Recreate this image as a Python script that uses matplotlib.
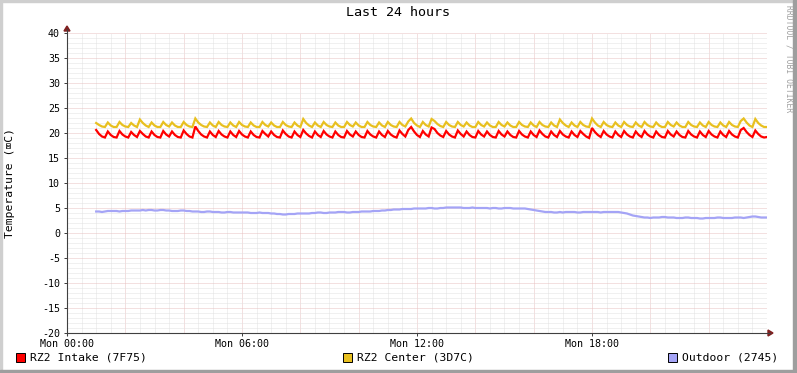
import numpy as np
import matplotlib.pyplot as plt
from matplotlib.patches import Rectangle, Polygon

plt.rcParams['font.family'] = ['DejaVu Sans Mono', 'DejaVu Sans']
plt.rcParams['axes.unicode_minus'] = False

# samples every 6 minutes, first one at 01:00
intake = [
    20.6, 19.8, 19.3, 19.1, 20.3, 19.6, 19.2, 19.1, 20.4, 19.7,
    19.3, 19.1, 20.2, 19.6, 19.2, 20.4, 19.8, 19.3, 19.1, 20.3,
    19.6, 19.2, 19.1, 20.4, 19.7, 19.3, 20.3, 19.6, 19.2, 19.1,
    20.5, 19.8, 19.3, 19.1, 21.3, 20.4, 19.7, 19.3, 19.1, 20.3,
    19.6, 19.2, 20.4, 19.7, 19.3, 19.1, 20.3, 19.6, 19.2, 20.4,
    19.7, 19.3, 19.1, 20.3, 19.6, 19.2, 19.1, 20.4, 19.8, 19.3,
    20.3, 19.6, 19.2, 19.1, 20.5, 19.8, 19.3, 19.1, 20.3, 19.6,
    19.2, 20.6, 19.9, 19.4, 19.1, 20.3, 19.6, 19.2, 20.4, 19.7,
    19.3, 19.1, 20.3, 19.6, 19.2, 19.1, 20.4, 19.7, 19.3, 20.3,
    19.6, 19.2, 19.1, 20.4, 19.7, 19.3, 19.1, 20.3, 19.6, 19.2,
    20.4, 19.7, 19.3, 19.1, 20.5, 19.8, 19.3, 20.6, 21.2, 20.3,
    19.6, 19.2, 20.4, 19.7, 19.3, 21.1, 20.8, 20.0, 19.5, 19.2,
    20.4, 19.7, 19.3, 19.1, 20.5, 19.8, 19.3, 20.3, 19.6, 19.2,
    19.1, 20.4, 19.7, 19.3, 20.3, 19.6, 19.2, 19.1, 20.4, 19.7,
    19.3, 20.3, 19.6, 19.2, 19.1, 20.4, 19.7, 19.3, 19.1, 20.3,
    19.6, 19.2, 20.5, 19.8, 19.3, 19.1, 20.3, 19.6, 19.2, 20.4,
    19.7, 19.3, 19.1, 20.3, 19.6, 19.2, 20.4, 19.8, 19.3, 19.0,
    21.0, 20.2, 19.6, 19.2, 20.4, 19.7, 19.3, 19.1, 20.3, 19.6,
    19.2, 20.4, 19.7, 19.3, 19.1, 20.3, 19.6, 19.2, 20.4, 19.7,
    19.3, 19.1, 20.3, 19.6, 19.2, 19.1, 20.4, 19.7, 19.3, 20.3,
    19.6, 19.2, 19.1, 20.4, 19.7, 19.3, 19.1, 20.3, 19.6, 19.2,
    20.4, 19.7, 19.3, 19.1, 20.3, 19.6, 19.2, 20.4, 19.7, 19.3,
    19.1, 20.6, 21.0, 20.2, 19.6, 19.2, 20.5, 19.8, 19.3, 19.1,
    19.2,
]

center = [
    22.0, 21.6, 21.3, 21.2, 22.1, 21.5, 21.2, 21.2, 22.2, 21.6,
    21.3, 21.2, 22.0, 21.5, 21.2, 22.7, 22.0, 21.5, 21.2, 22.1,
    21.5, 21.2, 21.2, 22.2, 21.6, 21.3, 22.1, 21.5, 21.2, 21.2,
    22.2, 21.6, 21.3, 21.2, 22.9, 22.1, 21.6, 21.3, 21.2, 22.1,
    21.5, 21.2, 22.2, 21.6, 21.3, 21.2, 22.1, 21.5, 21.2, 22.2,
    21.6, 21.3, 21.2, 22.1, 21.5, 21.2, 21.2, 22.2, 21.6, 21.3,
    22.1, 21.5, 21.2, 21.2, 22.2, 21.6, 21.3, 21.2, 22.1, 21.5,
    21.2, 22.8, 22.0, 21.5, 21.2, 22.1, 21.5, 21.2, 22.2, 21.6,
    21.3, 21.2, 22.1, 21.5, 21.2, 21.2, 22.2, 21.6, 21.3, 22.1,
    21.5, 21.2, 21.2, 22.2, 21.6, 21.3, 21.2, 22.1, 21.5, 21.2,
    22.2, 21.6, 21.3, 21.2, 22.2, 21.6, 21.3, 22.3, 22.9, 22.0,
    21.5, 21.2, 22.2, 21.6, 21.3, 22.8, 22.4, 21.8, 21.4, 21.2,
    22.2, 21.6, 21.3, 21.2, 22.2, 21.6, 21.3, 22.1, 21.5, 21.2,
    21.2, 22.2, 21.6, 21.3, 22.1, 21.5, 21.2, 21.2, 22.2, 21.6,
    21.3, 22.1, 21.5, 21.2, 21.2, 22.2, 21.6, 21.3, 21.2, 22.1,
    21.5, 21.2, 22.2, 21.6, 21.3, 21.2, 22.1, 21.5, 21.2, 22.7,
    22.0, 21.5, 21.2, 22.1, 21.5, 21.2, 22.2, 21.6, 21.3, 21.2,
    22.9, 22.1, 21.5, 21.2, 22.2, 21.6, 21.3, 21.2, 22.1, 21.5,
    21.2, 22.2, 21.6, 21.3, 21.2, 22.1, 21.5, 21.2, 22.2, 21.6,
    21.3, 21.2, 22.1, 21.5, 21.2, 21.2, 22.2, 21.6, 21.3, 22.1,
    21.5, 21.2, 21.2, 22.2, 21.6, 21.3, 21.2, 22.1, 21.5, 21.2,
    22.2, 21.6, 21.3, 21.2, 22.1, 21.5, 21.2, 22.2, 21.6, 21.3,
    21.2, 22.4, 22.9, 22.1, 21.5, 21.2, 22.8, 22.0, 21.5, 21.2,
    21.2,
]

outdoor = [
    4.3, 4.3, 4.2, 4.3, 4.4, 4.4, 4.4, 4.4, 4.3, 4.4,
    4.4, 4.4, 4.5, 4.5, 4.5, 4.5, 4.6, 4.5, 4.6, 4.6,
    4.5, 4.5, 4.6, 4.6, 4.5, 4.5, 4.4, 4.4, 4.4, 4.5,
    4.5, 4.4, 4.4, 4.3, 4.3, 4.3, 4.2, 4.2, 4.3, 4.3,
    4.2, 4.2, 4.2, 4.1, 4.1, 4.2, 4.2, 4.1, 4.1, 4.1,
    4.1, 4.1, 4.1, 4.0, 4.0, 4.0, 4.1, 4.0, 4.0, 4.0,
    3.9, 3.9, 3.8, 3.8, 3.7, 3.7, 3.8, 3.8, 3.8, 3.9,
    3.9, 3.9, 3.9, 3.9, 4.0, 4.0, 4.1, 4.1, 4.0, 4.0,
    4.1, 4.1, 4.1, 4.2, 4.2, 4.2, 4.1, 4.1, 4.2, 4.2,
    4.2, 4.3, 4.3, 4.3, 4.3, 4.4, 4.4, 4.4, 4.5, 4.5,
    4.6, 4.6, 4.7, 4.7, 4.7, 4.8, 4.8, 4.8, 4.8, 4.9,
    4.9, 4.9, 4.9, 4.9, 5.0, 5.0, 4.9, 4.9, 5.0, 5.0,
    5.1, 5.1, 5.1, 5.1, 5.1, 5.1, 5.0, 5.0, 5.0, 5.1,
    5.0, 5.0, 5.0, 5.0, 5.0, 4.9, 5.0, 5.0, 4.9, 4.9,
    5.0, 5.0, 5.0, 4.9, 4.9, 4.9, 4.9, 4.9, 4.8, 4.7,
    4.6, 4.5, 4.4, 4.3, 4.2, 4.2, 4.2, 4.1, 4.1, 4.2,
    4.1, 4.2, 4.2, 4.2, 4.2, 4.1, 4.1, 4.2, 4.2, 4.2,
    4.2, 4.2, 4.2, 4.1, 4.2, 4.2, 4.2, 4.2, 4.2, 4.2,
    4.1, 4.0, 3.9, 3.7, 3.5, 3.4, 3.3, 3.2, 3.1, 3.1,
    3.0, 3.1, 3.1, 3.1, 3.2, 3.2, 3.1, 3.1, 3.1, 3.0,
    3.0, 3.0, 3.1, 3.1, 3.0, 3.0, 3.0, 2.9, 2.9, 3.0,
    3.0, 3.0, 3.0, 3.1, 3.1, 3.0, 3.0, 3.0, 3.0, 3.1,
    3.1, 3.1, 3.0, 3.1, 3.2, 3.3, 3.3, 3.2, 3.1, 3.1,
    3.1,
]

series_names = ['RZ2 Intake (7F75)', 'RZ2 Center (3D7C)', 'Outdoor (2745)']
colors = ['#FF0000', '#E8C020', '#A4A4F6']
tick_labels = ['Mon 00:00', 'Mon 06:00', 'Mon 12:00', 'Mon 18:00']

W, H = 797, 373
fig = plt.figure(figsize=(W / 100, H / 100), dpi=100)
fig.patch.set_facecolor('white')

# plot area in pixels: x 67..767, y 33..333
L, T, R, B = 67, 33, 767, 333
ax = fig.add_axes([L / W, 1 - B / H, (R - L) / W, (B - T) / H])
ax.set_xlim(0, 24)
ax.set_ylim(-20, 40)
ax.set_facecolor('white')

# dotted grid like rrdtool
minor_c = '#E2E2E2'
major_c = '#E8C2C2'
for v in np.arange(0, 24.01, 0.5):
    c = major_c if v % 2 == 0 else minor_c
    ax.axvline(v, color=c, lw=0.72, ls=(0, (1, 1)), zorder=1)
for v in range(-20, 41):
    c = major_c if v % 5 == 0 else minor_c
    ax.axhline(v, color=c, lw=0.72, ls=(0, (1, 1)), zorder=1)

for vals, col in zip([intake, center, outdoor], colors):
    hrs = 1.0 + 0.1 * np.arange(len(vals))
    ax.plot(hrs, vals, color=col, lw=1.6, zorder=3, solid_joinstyle='miter')

for s in ax.spines.values():
    s.set_visible(False)
ax.set_xticks([0, 6, 12, 18])
ax.set_xticklabels(tick_labels)
ax.set_yticks(range(-20, 41, 5))
ax.tick_params(axis='both', length=2, width=0.72, color='#404040', labelsize=7.2, pad=2)
ax.tick_params(axis='y', pad=3)

# overlay in pixel coordinates for frame, axes, legend and texts
ov = fig.add_axes([0, 0, 1, 1], zorder=5)
ov.set_xlim(0, W)
ov.set_ylim(H, 0)
ov.axis('off')
ov.patch.set_alpha(0)

ov.plot([L, R + 3], [B, B], color='#404040', lw=0.8)
ov.plot([L, L], [B + 2, T - 4], color='#404040', lw=0.8)
ov.add_patch(Polygon([[R + 1, B - 3], [R + 1, B + 3], [R + 6, B]], color='#802020'))
ov.add_patch(Polygon([[L - 3, T - 2], [L + 3, T - 2], [L, T - 7]], color='#802020'))

# shaded border
ov.add_patch(Rectangle((0, 0), W, 2, color='#CFCFCF'))
ov.add_patch(Rectangle((0, 0), 2, H, color='#CFCFCF'))
ov.add_patch(Rectangle((W - 4, 0), 4, H, color='#9E9E9E'))
ov.add_patch(Rectangle((0, H - 3), W, 3, color='#9E9E9E'))

ov.text(398, 13, 'Last 24 hours', ha='center', va='center', fontsize=9.6)
ov.text(10, (T + B) / 2, 'Temperature (⌧C)', rotation=90, ha='center', va='center', fontsize=8.2)
ov.text(789, 5, 'RRDTOOL / TOBI OETIKER', rotation=270, ha='center', va='top',
        fontsize=5.8, color='#A0A0A0')

legend_x = [16, 343, 668]
for x0, name, col in zip(legend_x, series_names, colors):
    ov.add_patch(Rectangle((x0, 353), 9, 9, facecolor=col, edgecolor='black', lw=0.7))
    ov.text(x0 + 14, 358, name, ha='left', va='center', fontsize=8.2)

fig.savefig('out.png', dpi=100, facecolor='white')
